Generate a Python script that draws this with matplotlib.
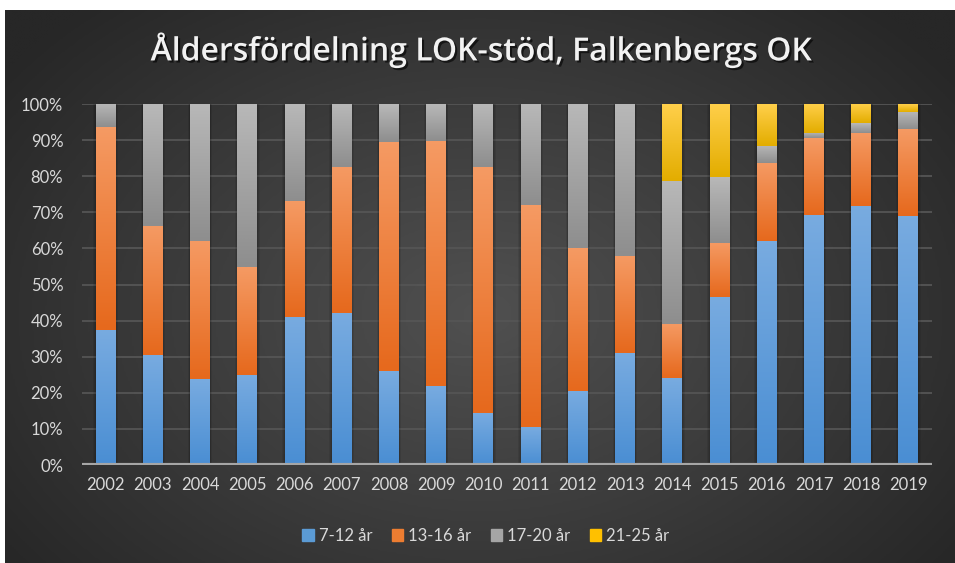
import numpy as np
import matplotlib
matplotlib.use("Agg")
import matplotlib.pyplot as plt
from matplotlib.colors import LinearSegmentedColormap
from matplotlib.patches import Rectangle
import matplotlib.patheffects as pe

years = ["2002", "2003", "2004", "2005", "2006", "2007", "2008", "2009", "2010",
         "2011", "2012", "2013", "2014", "2015", "2016", "2017", "2018", "2019"]
series_names = ["7-12 år", "13-16 år", "17-20 år", "21-25 år"]
age_7_12 = [37.5, 30.5, 23.7, 25.0, 41.0, 42.0, 26.0, 22.0, 14.5, 10.5, 20.5, 31.0,
            24.0, 46.5, 62.0, 69.3, 71.7, 69.1]
age_13_16 = [56.0, 35.8, 38.3, 29.8, 32.0, 40.5, 63.5, 67.8, 68.0, 61.5, 39.5, 27.0,
             15.0, 15.0, 21.7, 21.2, 20.3, 24.0]
age_17_20 = [6.5, 33.7, 38.0, 45.2, 27.0, 17.5, 10.5, 10.2, 17.5, 28.0, 40.0, 42.0,
             39.7, 18.2, 4.8, 1.4, 2.7, 4.8]
age_21_25 = [0.0, 0.0, 0.0, 0.0, 0.0, 0.0, 0.0, 0.0, 0.0, 0.0, 0.0, 0.0,
             21.3, 20.3, 11.5, 8.1, 5.3, 2.1]
yticks = [0, 10, 20, 30, 40, 50, 60, 70, 80, 90, 100]
title = "Åldersfördelning LOK-stöd, Falkenbergs OK"

# gradient colours (top, bottom) per series; legend colour
grads = [("#78abe0", "#4a8ed3"), ("#f59a63", "#e6691d"),
         ("#b8b8b8", "#8e8e8e"), ("#ffcf4a", "#e3ad00")]
legend_cols = ["#5b9bd5", "#ed7d31", "#a5a5a5", "#ffc000"]

plt.rcParams['font.family'] = ['Lato', 'DejaVu Sans']

W, H = 955, 563
fig = plt.figure(figsize=(W / 100, H / 100), dpi=100)
fig.patch.set_facecolor("white")

# background radial gradient
bg = fig.add_axes([5 / W, 0, 1 - 5 / W, 1 - 10 / H])
bg.set_axis_off()
yy, xx = np.mgrid[0:1:300j, 0:1:500j]
r = np.sqrt(((xx - 0.5) / 0.62) ** 2 + ((yy - 0.45) / 0.75) ** 2)
r = np.clip(r, 0, 1)
bgcmap = LinearSegmentedColormap.from_list("bg", ["#505050", "#3c3c3c", "#272727"])
bg.imshow(r, cmap=bgcmap, aspect="auto", extent=[0, 1, 0, 1], origin="lower",
          interpolation="bilinear")
bg.set_xlim(0, 1)
bg.set_ylim(0, 1)

ax = fig.add_axes([82 / W, 1 - 465 / H, (932 - 82) / W, (465 - 104) / H])
ax.patch.set_alpha(0)
ax.set_xlim(-0.5, len(years) - 0.5)
ax.set_ylim(0, 100)

x = np.arange(len(years))
width = 0.42
data = [age_7_12, age_13_16, age_17_20, age_21_25]

for yv in yticks[1:]:
    ax.axhline(yv, color="#555555", lw=1.3, zorder=0)

# bar shadows
totals = np.sum(np.array(data), axis=0)
for i in range(len(years)):
    for k, a in zip([0.2, 0.12, 0.06], [0.08, 0.08, 0.08]):
        ax.add_patch(Rectangle((x[i] - width / 2 - k * 0.25, 0), width + k * 0.5,
                               totals[i] + k * 1.5, color="black", alpha=a,
                               lw=0, zorder=1))

bottom = np.zeros(len(years))
grad_img = np.linspace(0, 1, 64).reshape(-1, 1)
for s, vals in enumerate(data):
    vals = np.array(vals)
    bars = ax.bar(x, vals, width, bottom=bottom, color=legend_cols[s],
                  label=series_names[s], zorder=2, lw=0)
    cmap = LinearSegmentedColormap.from_list("g%d" % s, [grads[s][1], grads[s][0]])
    for i, b in enumerate(bars):
        if vals[i] <= 0:
            continue
        x0 = b.get_x()
        y0 = b.get_y()
        im = ax.imshow(grad_img, cmap=cmap, aspect="auto", origin="lower",
                       extent=[x0, x0 + b.get_width(), y0, y0 + b.get_height()],
                       zorder=3, interpolation="bilinear")
        im.set_clip_path(b)
    bottom += vals

ax.set_xlim(-0.5, len(years) - 0.5)
ax.set_ylim(0, 100)

ax.axhline(0, color="#a6a6a6", lw=3, zorder=4)

ax.set_yticks(yticks)
ax.set_yticklabels([f"{v}%" for v in yticks])
ax.set_xticks(x)
ax.set_xticklabels(years)
ax.tick_params(axis="both", length=0, colors="#d9d9d9", labelsize=12)
ax.tick_params(axis="y", pad=13.5)
ax.tick_params(axis="x", pad=9)
for sp in ax.spines.values():
    sp.set_visible(False)

fig.text(482 / W, 1 - 50 / H, title, ha="center", va="center", color="#f2f2f2",
         fontsize=23, fontweight="semibold", family=["Open Sans", "DejaVu Sans"],
         path_effects=[pe.withSimplePatchShadow(offset=(1.5, -1.5), shadow_rgbFace="black",
                                                 alpha=0.6)])

handles = [Rectangle((0, 0), 1, 1, color=c) for c in legend_cols]
leg = fig.legend(handles, series_names, loc="center", bbox_to_anchor=(486 / W, 1 - 536 / H),
                 ncol=4, frameon=False, fontsize=12, handlelength=0.7,
                 handleheight=0.7, handletextpad=0.3, columnspacing=1.15)
for t in leg.get_texts():
    t.set_color("#d9d9d9")

fig.savefig("out.png", dpi=100, facecolor="white")
